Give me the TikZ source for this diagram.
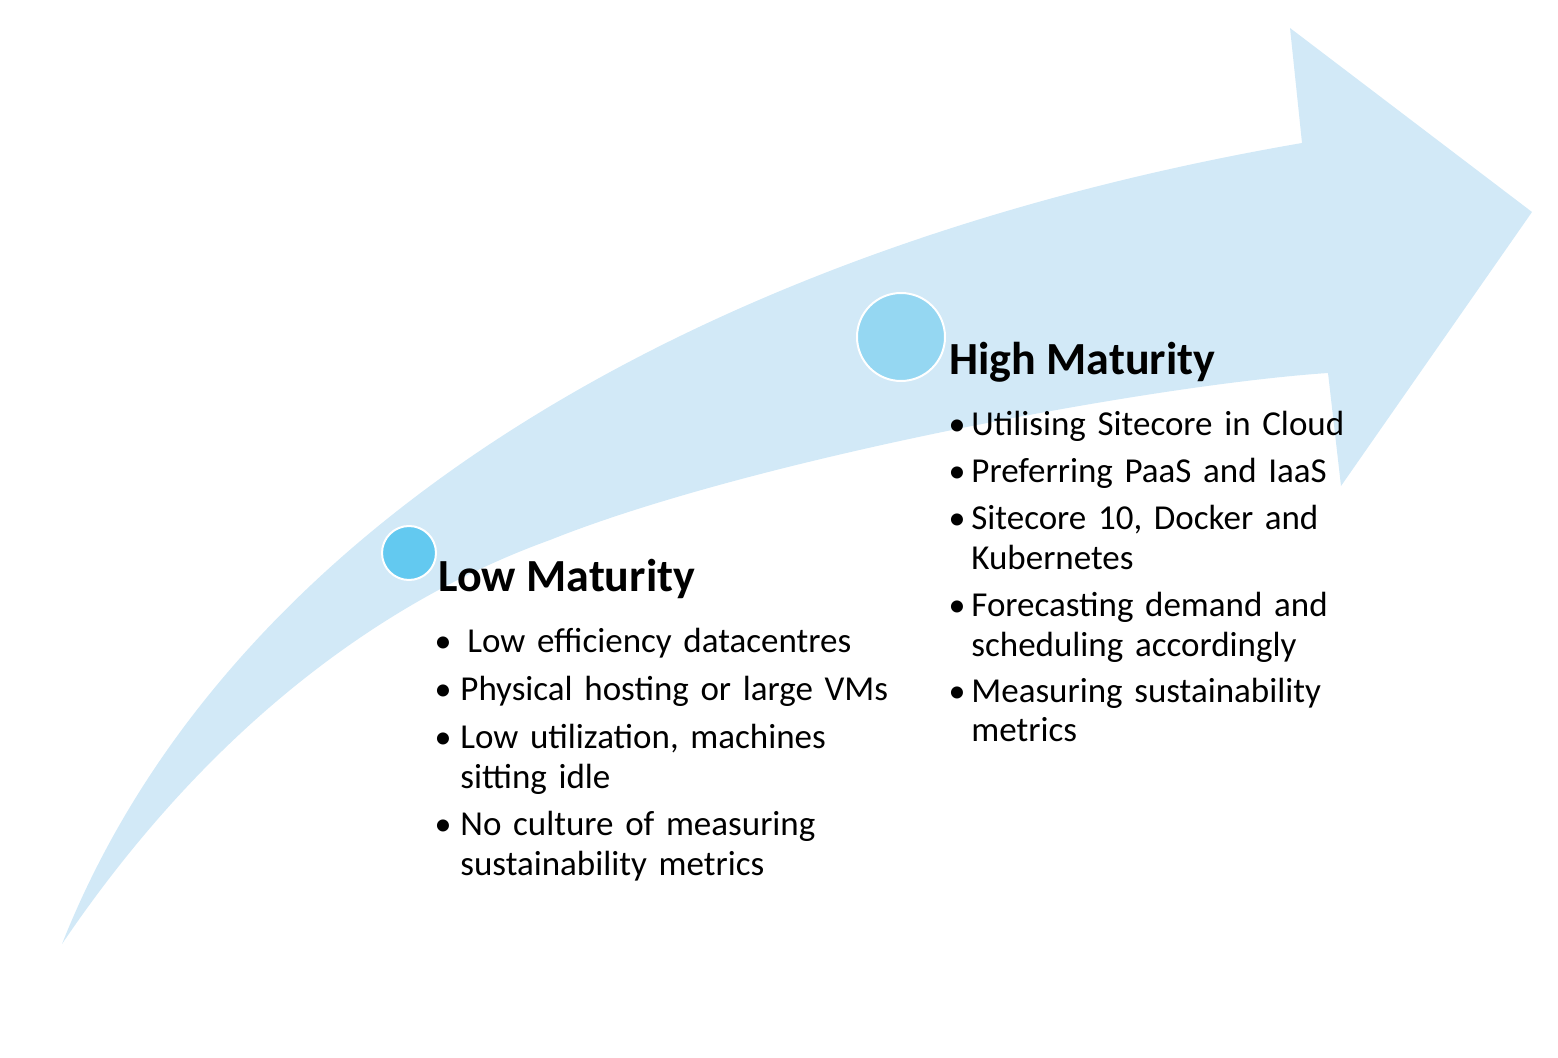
\documentclass[tikz,border=0pt]{standalone}
\usepackage{fontspec}
\setmainfont{Carlito}
\definecolor{bandfill}{RGB}{210,233,247}
\definecolor{lowfill}{RGB}{99,201,240}
\definecolor{highfill}{RGB}{149,215,242}

\begin{document}
\begin{tikzpicture}[x=0.5pt, y=-0.5pt,
  stage/.style={font=\fontsize{23}{27}\selectfont\bfseries, anchor=base west, inner sep=0pt},
  dot/.style={circle, draw=white, line width=1pt, inner sep=0pt},
  item/.style={font=\fontsize{17.5}{20}\selectfont, anchor=base west, inner sep=0pt,
    text width=240pt, align=left},
  bul/.style={font=\fontsize{17}{20}\selectfont, anchor=base, inner sep=0pt}]
  \useasboundingbox (0,0) rectangle (1558,1058);
  % the bent arrow (pixel grid, y down)
  \fill[bandfill] (62,944) .. controls (230,520) and (710,245) .. (1302,143)
    -- (1290,28) -- (1532,212) -- (1341,486) -- (1328,373)
    .. controls (1150,385) and (750,460) .. (550,540)
    .. controls (370,605) and (200,740) .. (62,944) -- cycle;
  % low maturity
  \node[dot, fill=lowfill, minimum size=27pt] (lowc) at (409,553) {};
  \node[stage] (low) at (438,592) {Low Maturity};
  \node[bul]  (lb1) at (443,653) {\textbullet};
  \node[item] (l1)  at (467,653) {Low efficiency datacentres};
  \node[bul]  (lb2) at (443,700) {\textbullet};
  \node[item] (l2)  at (460,700) {Physical hosting or large VMs};
  \node[bul]  (lb3) at (443,748) {\textbullet};
  \node[item] (l3)  at (460,748) {Low utilization, machines\\sitting idle};
  \node[bul]  (lb4) at (443,835) {\textbullet};
  \node[item] (l4)  at (460,835) {No culture of measuring\\sustainability metrics};
  % high maturity
  \node[dot, fill=highfill, minimum size=44pt] (highc) at (901,337) {};
  \node[stage] (high) at (949,375) {High Maturity};
  \node[bul]  (hb1) at (957,436) {\textbullet};
  \node[item] (h1)  at (971,436) {Utilising Sitecore in Cloud};
  \node[bul]  (hb2) at (957,483) {\textbullet};
  \node[item] (h2)  at (971,483) {Preferring PaaS and IaaS};
  \node[bul]  (hb3) at (957,530) {\textbullet};
  \node[item] (h3)  at (971,530) {Sitecore 10, Docker and\\Kubernetes};
  \node[bul]  (hb4) at (957,617) {\textbullet};
  \node[item] (h4)  at (971,617) {Forecasting demand and\\scheduling accordingly};
  \node[bul]  (hb5) at (957,702) {\textbullet};
  \node[item] (h5)  at (971,702) {Measuring sustainability\\metrics};
\end{tikzpicture}
\end{document}
